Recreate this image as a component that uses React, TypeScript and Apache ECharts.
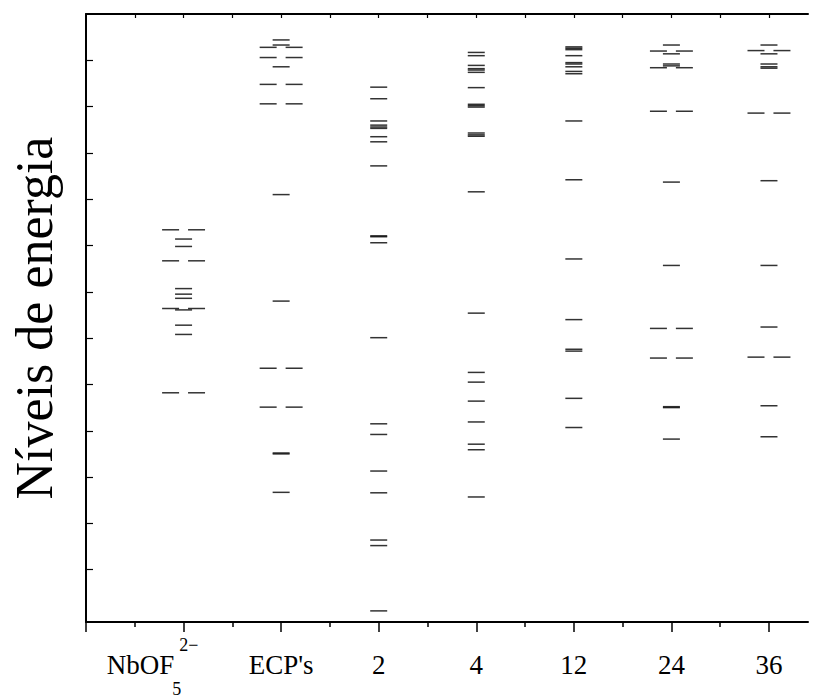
import React, { useEffect, useRef } from "react";
import * as echarts from "echarts";

// Category positions on the x axis (1..7)
const categories = ["NbOF5", "ECP's", "2", "4", "12", "24", "36"];

// Energy levels (arbitrary units) per column: non-degenerate (single dash) and degenerate (pair of dashes)
const singles: number[][] = [
  [8.14, 7.98, 7.07, 6.95, 6.86, 6.61, 6.28, 6.08],
  [12.44, 12.33, 11.86, 9.1, 6.8, 3.52, 3.5, 2.67],
  [11.42, 11.17, 10.69, 10.6, 10.56, 10.53, 10.35, 10.24, 9.72, 8.21, 8.19, 8.06, 6.01, 4.15, 3.92, 3.13, 2.66, 1.64, 1.52, 0.11],
  [12.17, 12.1, 11.89, 11.82, 11.79, 11.74, 11.41, 11.05, 11.02, 10.99, 10.43, 10.39, 10.36, 9.16, 6.54, 5.26, 5.05, 4.64, 4.19, 3.71, 3.59, 2.57],
  [12.29, 12.26, 12.23, 12.1, 11.95, 11.92, 11.86, 11.76, 11.71, 10.69, 9.42, 7.71, 6.4, 5.76, 5.72, 4.7, 4.07],
  [12.33, 12.14, 11.92, 11.88, 9.37, 7.57, 4.52, 4.5, 3.82],
  [12.33, 12.14, 11.92, 11.86, 11.83, 9.4, 7.57, 6.24, 4.54, 3.87],
];
const pairs: number[][] = [
  [8.34, 7.67, 6.64, 4.82],
  [12.28, 12.06, 11.48, 11.06, 5.35, 4.51],
  [],
  [],
  [],
  [12.2, 11.84, 10.9, 6.21, 5.57],
  [12.21, 10.86, 5.59],
];

const yTicks = [1, 2, 3, 4, 5, 6, 7, 8, 9, 10, 11, 12];
const xMajor = [0, 1, 2, 3, 4, 5, 6, 7];
const xMinor = [0.5, 1.5, 2.5, 3.5, 4.5, 5.5, 6.5];
const xTop = [0.5, 1, 1.5, 2, 2.5, 3, 3.5, 4, 4.5, 5, 5.5, 6, 6.5, 7];

const SERIF = "Liberation Serif, Times New Roman, serif";
const PAIR_OFFSET = 0.133;

export default function App() {
  const ref = useRef<HTMLDivElement>(null);
  useEffect(() => {
    if (!ref.current) return;
    const chart = echarts.init(ref.current, undefined, { renderer: "svg" });

    const singleData: number[][] = [];
    singles.forEach((lv, i) => lv.forEach((v) => singleData.push([i + 1, v])));
    const pairData: number[][] = [];
    pairs.forEach((lv, i) =>
      lv.forEach((v) => {
        pairData.push([i + 1 - PAIR_OFFSET, v]);
        pairData.push([i + 1 + PAIR_OFFSET, v]);
      })
    );

    const labelFor = (v: number) => {
      const idx = Math.round(v) - 1;
      if (idx > 0 && idx < categories.length) return "{m|" + categories[idx] + "}";
      return "";
    };

    const dashStyle = { color: "#000" };
    const mainStyle = { fontSize: 27, lineHeight: 66, fontFamily: SERIF, color: "#000", verticalAlign: "middle" };

    chart.setOption({
      animation: false,
      backgroundColor: "#ffffff",
      grid: { left: 83, top: 14, right: 13, bottom: 77, containLabel: false },
      xAxis: [
        {
          type: "value",
          position: "bottom",
          min: 0,
          max: 7.4,
          axisLine: { show: true, onZero: false, lineStyle: { color: "#000", width: 2 } },
          axisTick: { show: true, inside: false, length: 10, customValues: xMajor, lineStyle: { color: "#000", width: 1.5 } },
          splitLine: { show: false },
          axisLabel: {
            show: true,
            hideOverlap: false,
            showMinLabel: true,
            showMaxLabel: true,
            customValues: [2, 3, 4, 5, 6, 7],
            margin: 10,
            fontFamily: SERIF,
            fontSize: 27,
            color: "#000",
            formatter: labelFor,
            rich: { m: mainStyle },
          },
        },
        {
          type: "value",
          position: "bottom",
          min: 0,
          max: 7.4,
          axisLine: { show: false, onZero: false },
          axisTick: { show: true, inside: false, length: 5, customValues: xMinor, lineStyle: { color: "#000", width: 1.5 } },
          axisLabel: {
            show: true,
            showMinLabel: true,
            customValues: [1],
            margin: 10,
            fontFamily: SERIF,
            fontSize: 27,
            color: "#000",
            formatter: () => "{m|NbOF}{lo|5}{hi|2\u2212}",
            rich: {
              m: mainStyle,
              lo: { fontSize: 18, lineHeight: 18, width: 5, fontFamily: SERIF, color: "#000", verticalAlign: "bottom" },
              hi: { fontSize: 18, lineHeight: 18, fontFamily: SERIF, color: "#000", verticalAlign: "top", padding: [4, 62, 0, 0] },
            },
          },
          splitLine: { show: false },
        },
        {
          type: "value",
          position: "top",
          min: 0,
          max: 7.4,
          axisLine: { show: true, onZero: false, lineStyle: { color: "#000", width: 2 } },
          axisTick: { show: true, inside: true, length: 4, customValues: xTop, lineStyle: { color: "#000", width: 1.2 } },
          axisLabel: { show: false },
          splitLine: { show: false },
        },
      ],
      yAxis: [
        {
          type: "value",
          position: "left",
          min: -0.13,
          max: 13,
          name: "Níveis de energia",
          nameLocation: "middle",
          nameRotate: 90,
          nameGap: 26,
          nameTextStyle: { fontFamily: SERIF, fontSize: 52, color: "#000" },
          axisLine: { show: true, onZero: false, lineStyle: { color: "#000", width: 2 } },
          axisTick: { show: true, inside: true, length: 7, customValues: yTicks, lineStyle: { color: "#000", width: 1.2 } },
          axisLabel: { show: false },
          splitLine: { show: false },
        },
      ],
      series: [
        {
          name: "singles",
          type: "scatter",
          xAxisIndex: 0,
          yAxisIndex: 0,
          symbol: "rect",
          symbolSize: [17, 1.5],
          itemStyle: dashStyle,
          data: singleData,
          silent: true,
        },
        {
          name: "pairs",
          type: "scatter",
          xAxisIndex: 0,
          yAxisIndex: 0,
          symbol: "rect",
          symbolSize: [17, 1.5],
          itemStyle: dashStyle,
          data: pairData,
          silent: true,
        },
      ],
    });
    return () => chart.dispose();
  }, []);
  return <div ref={ref} style={{ width: 821, height: 699, position: "absolute", left: 0, top: 0 }} />;
}
